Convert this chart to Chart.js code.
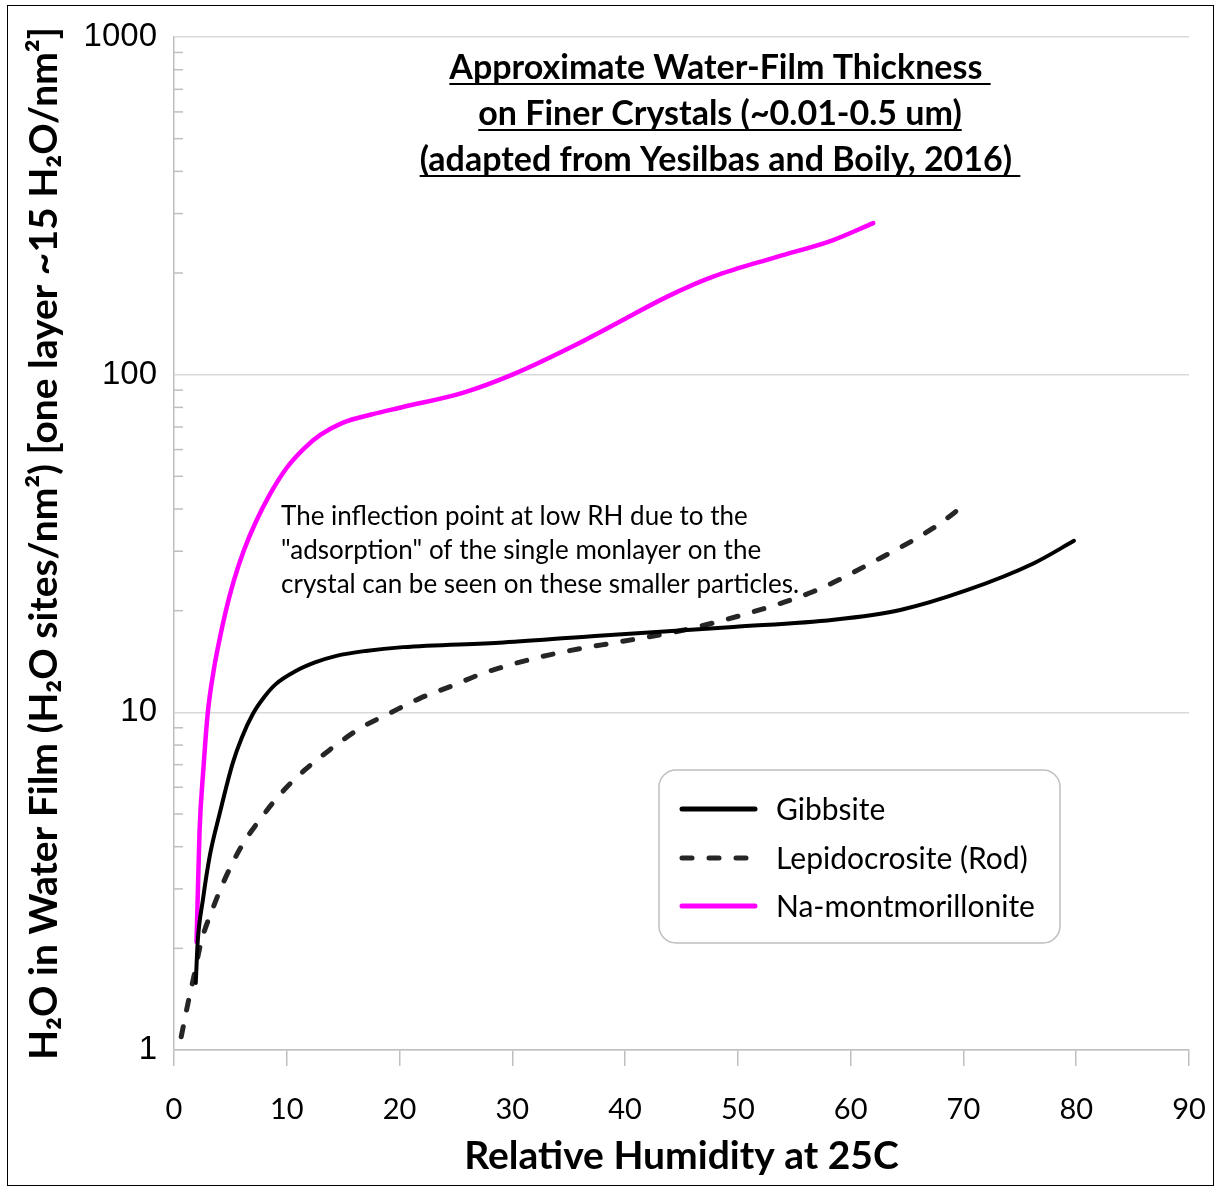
<!DOCTYPE html>
<html>
<head>
<meta charset="utf-8">
<script src="https://cdn.jsdelivr.net/npm/chart.js@4.4.0/dist/chart.umd.min.js"></script>
<style>
  html, body { margin: 0; padding: 0; background: #fff; }
  #wrap { width: 1214px; height: 1186px; }
</style>
</head>
<body>
<div id="wrap"><canvas id="chartFilm" width="1214" height="1186"></canvas></div>
<script>
// values
const rhGibbsite = [1.93, 2.1, 2.56, 3.2, 4.04, 5.2, 6.0, 7.0, 8.0, 9.0, 10.8, 12.5, 14.4, 17.0, 20.3, 29.2, 38, 49.6, 58.5, 64.4, 70.3, 76.2, 79.8];
const h2oGibbsite = [1.58, 2.09, 2.78, 3.8, 5.0, 7.06, 8.4, 9.9, 11.1, 12.1, 13.25, 14.05, 14.7, 15.2, 15.6, 16.1, 16.9, 17.9, 18.8, 20.1, 23.0, 27.6, 32.2];

const rhLepido = [0.64, 1.23, 1.76, 2.41, 3.45, 4.33, 5.96, 7.59, 9.5, 11.6, 13.8, 16.5, 19.1, 21.8, 24.7, 27.4, 30.4, 33.3, 36.3, 39.2, 45.1, 50.8, 56.7, 62.0, 67.3, 70.1];
const h2oLepido = [1.095, 1.37, 1.65, 2.09, 2.63, 3.11, 4.0, 4.8, 5.76, 6.75, 7.74, 8.97, 9.93, 11.0, 12.0, 13.05, 14.0, 14.8, 15.5, 16.1, 17.5, 19.6, 22.8, 27.9, 35.1, 41.1];

const rhMontmor = [2.0, 2.26, 2.62, 3.0, 3.5, 4.0, 4.6, 5.3, 6.2, 7.2, 8.5, 10.0, 11.5, 13.0, 15.0, 17.5, 20.3, 25.6, 30.0, 35.5, 40.1, 43.7, 47.8, 53.4, 58.4, 62.0];
const h2oMontmor = [2.09, 4.4, 6.9, 10.0, 13.2, 16.2, 20.0, 24.5, 30.2, 36.3, 44.2, 53, 60.3, 66.4, 72.1, 76.2, 80.2, 88.3, 100, 122, 147, 170, 195, 223, 250, 281];

const seriesNames = ['Gibbsite', 'Lepidocrosite (Rod)', 'Na-montmorillonite'];
const yMajorTicks = [1, 10, 100, 1000];
const yMinorSteps = [2, 3, 4, 5, 6, 7, 8, 9];
const titleLines = ['Approximate Water-Film Thickness ', 'on Finer Crystals (~0.01-0.5 um)', '(adapted from Yesilbas and Boily, 2016) '];
const noteLines = ['The inflection point at low RH due to the', '"adsorption" of the single monlayer on the', 'crystal can be seen on these smaller particles.'];

const toPoints = (xs, ys) => xs.map((x, i) => ({ x: x, y: ys[i] }));

const extras = {
  id: 'extras',
  beforeDraw(chart) {
    const ctx = chart.ctx;
    ctx.save();
    ctx.fillStyle = '#fff';
    ctx.fillRect(0, 0, chart.width, chart.height);
    ctx.restore();
  },
  afterDraw(chart) {
    const ctx = chart.ctx;
    const area = chart.chartArea;
    const yScale = chart.scales.y;
    ctx.save();

    // minor ticks on the log axis, pointing inside
    ctx.strokeStyle = '#bfbfbf';
    ctx.lineWidth = 1.5;
    yMajorTicks.slice(0, -1).forEach(dec => {
      yMinorSteps.forEach(m => {
        const py = yScale.getPixelForValue(dec * m);
        ctx.beginPath();
        ctx.moveTo(area.left, py);
        ctx.lineTo(area.left + 9, py);
        ctx.stroke();
      });
    });

    // title (bold, underlined)
    ctx.fillStyle = '#000';
    ctx.strokeStyle = '#000';
    ctx.font = 'bold 34px Lato';
    ctx.textBaseline = 'alphabetic';
    ctx.textAlign = 'left';
    const titleBase = [79, 125, 171];
    titleLines.forEach((t, i) => {
      const w = ctx.measureText(t).width;
      const x0 = 720 - w / 2;
      ctx.fillText(t, x0, titleBase[i]);
      ctx.lineWidth = 2;
      ctx.beginPath();
      ctx.moveTo(x0, titleBase[i] + 5);
      ctx.lineTo(x0 + w, titleBase[i] + 5);
      ctx.stroke();
    });

    // note text
    ctx.font = '26px Lato';
    const noteBase = [525, 559, 593];
    noteLines.forEach((t, i) => ctx.fillText(t, 281, noteBase[i]));

    // legend box
    const bx = 659, by = 770, bw = 401, bh = 173, r = 17;
    ctx.fillStyle = '#fff';
    ctx.strokeStyle = '#bfbfbf';
    ctx.lineWidth = 1.5;
    ctx.beginPath();
    ctx.roundRect(bx, by, bw, bh, r);
    ctx.fill();
    ctx.stroke();
    const rowY = [809, 858, 906];
    ctx.font = '30px Lato';
    ctx.textBaseline = 'middle';
    chart.data.datasets.forEach((ds, i) => {
      ctx.strokeStyle = ds.borderColor;
      ctx.lineWidth = 5;
      ctx.lineCap = 'round';
      ctx.setLineDash(ds.borderDash || []);
      ctx.beginPath();
      ctx.moveTo(682, rowY[i]);
      ctx.lineTo(755, rowY[i]);
      ctx.stroke();
      ctx.setLineDash([]);
      ctx.fillStyle = '#000';
      ctx.fillText(ds.label, 776, rowY[i] + 1);
    });

    // outer frame
    ctx.strokeStyle = '#000';
    ctx.lineWidth = 1;
    ctx.strokeRect(7.5, 5.5, 1206, 1180);
    ctx.restore();
  }
};

new Chart(document.getElementById('chartFilm').getContext('2d'), {
  type: 'line',
  data: {
    datasets: [
      {
        label: seriesNames[0],
        data: toPoints(rhGibbsite, h2oGibbsite),
        borderColor: '#000000',
        borderWidth: 4,
        pointRadius: 0,
        cubicInterpolationMode: 'monotone',
        borderCapStyle: 'round'
      },
      {
        label: seriesNames[1],
        data: toPoints(rhLepido, h2oLepido),
        borderColor: '#262626',
        borderWidth: 5,
        borderDash: [10, 17],
        borderCapStyle: 'round',
        pointRadius: 0,
        cubicInterpolationMode: 'monotone'
      },
      {
        label: seriesNames[2],
        data: toPoints(rhMontmor, h2oMontmor),
        borderColor: '#ff00ff',
        borderWidth: 4.5,
        pointRadius: 0,
        cubicInterpolationMode: 'monotone',
        borderCapStyle: 'round'
      }
    ]
  },
  options: {
    responsive: false,
    animation: false,
    layout: { padding: { left: 8, right: 25, top: 37, bottom: 0 } },
    plugins: {
      legend: { display: false },
      tooltip: { enabled: false }
    },
    scales: {
      x: {
        type: 'linear',
        min: 0,
        max: 90,
        ticks: {
          stepSize: 10,
          color: '#000',
          padding: 26,
          font: { family: 'Lato', size: 29 }
        },
        grid: { drawOnChartArea: false, drawTicks: true, tickLength: 16, color: '#bfbfbf', lineWidth: 1.5 },
        border: { color: '#bfbfbf', width: 1.5 },
        title: {
          display: true,
          text: 'Relative Humidity at 25C',
          color: '#000',
          font: { family: 'Lato', size: 39, weight: 'bold' },
          padding: { top: 0, bottom: 6 }
        },
        afterFit(scale) {
          scale.height = 136;
          scale.paddingLeft = 0;
          scale.paddingRight = 0;
        }
      },
      y: {
        type: 'logarithmic',
        min: 1,
        max: 1000,
        afterBuildTicks(scale) { scale.ticks = yMajorTicks.map(v => ({ value: v })); },
        ticks: {
          color: '#000',
          padding: 17,
          font: { family: 'Liberation Sans', size: 33 },
          callback: v => String(v)
        },
        grid: { drawTicks: false, color: '#d9d9d9', lineWidth: 1.5 },
        border: { color: '#bfbfbf', width: 1.5 },
        title: {
          display: true,
          text: 'H\u2082O in Water Film (H\u2082O sites/nm\u00B2) [one layer ~15 H\u2082O/nm\u00B2]',
          color: '#000',
          font: { family: 'Lato', size: 39, weight: 'bold' },
          padding: { top: 13, bottom: 0 }
        },
        afterFit(scale) { scale.width = 166; }
      }
    }
  },
  plugins: [extras]
});
</script>
</body>
</html>
